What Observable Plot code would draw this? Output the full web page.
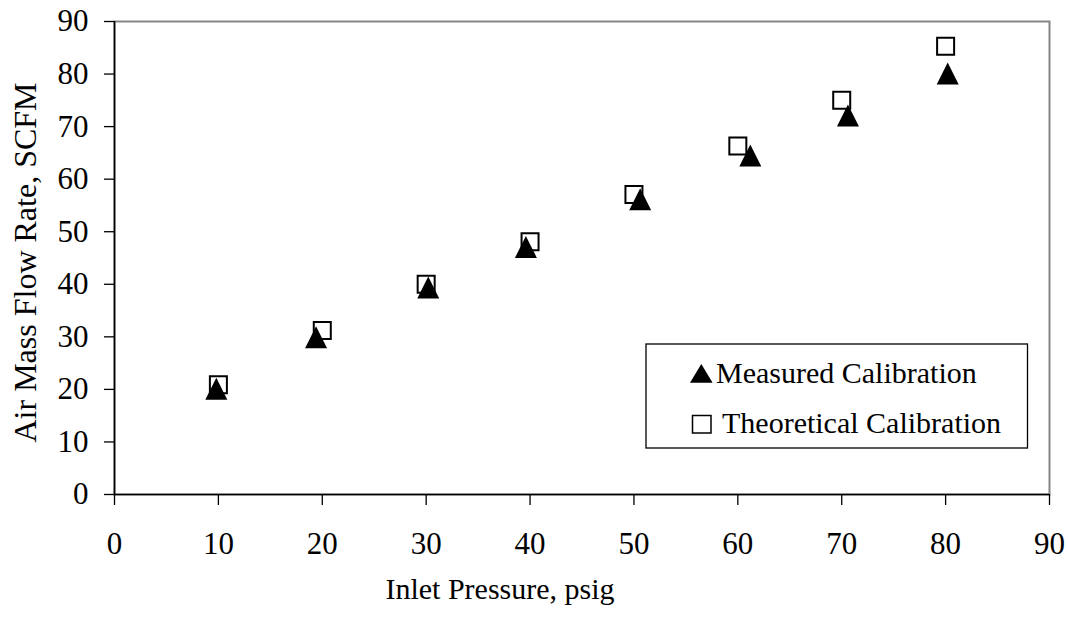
<!DOCTYPE html>
<html>
<head>
<meta charset="utf-8">
<script src="https://cdn.jsdelivr.net/npm/d3@7"></script>
<script src="https://cdn.jsdelivr.net/npm/@observablehq/plot@0.6"></script>
<style>
  html, body { margin: 0; padding: 0; background: #fff; }
  #chart { position: relative; width: 1068px; height: 619px; }
  #chart svg { display: block; }
  #legend { position: absolute; left: 0; top: 0; pointer-events: none; }
</style>
</head>
<body>
<div id="chart"></div>
<script>
// ---- data ----
const pressureMeasured = [9.8, 19.4, 30.2, 39.6, 50.6, 61.2, 70.6, 80.2];
const flowMeasured = [20.1, 29.9, 39.4, 47.1, 56.2, 64.5, 72.1, 80.1];
const pressureTheoretical = [10, 20, 30, 40, 50, 60, 70, 80];
const flowTheoretical = [20.9, 31.2, 40.0, 48.1, 57.1, 66.3, 75.0, 85.3];
const xTicks = [0, 10, 20, 30, 40, 50, 60, 70, 80, 90];
const yTicks = [0, 10, 20, 30, 40, 50, 60, 70, 80, 90];
const seriesNames = ["Measured Calibration", "Theoretical Calibration"];
const xTitle = "Inlet Pressure, psig";
const yTitle = "Air Mass Flow Rate, SCFM";

const measured = pressureMeasured.map((p, i) => ({p, f: flowMeasured[i]}));
const theoretical = pressureTheoretical.map((p, i) => ({p, f: flowTheoretical[i]}));

// bbox-centred triangle and square symbols (Excel-like markers)
const triSym = {draw(ctx, size) {
  const r = Math.sqrt(size / Math.PI);
  ctx.moveTo(0, -r); ctx.lineTo(r, r); ctx.lineTo(-r, r); ctx.closePath();
}};
const sqSym = {draw(ctx, size) {
  const r = Math.sqrt(size / Math.PI);
  ctx.moveTo(-r, -r); ctx.lineTo(r, -r); ctx.lineTo(r, r); ctx.lineTo(-r, r); ctx.closePath();
}};

const font = "'Liberation Serif', 'Times New Roman', serif";

const chart = Plot.plot({
  width: 1068,
  height: 619,
  marginLeft: 114,
  marginRight: 19,
  marginTop: 21,
  marginBottom: 125,
  style: {fontFamily: font, fontSize: "30px", color: "#000", background: "#fff", overflow: "visible"},
  x: {domain: [0, 90]},
  y: {domain: [0, 90]},
  marks: [
    Plot.frame({stroke: "#858585", strokeWidth: 2}),
    Plot.ruleX([0], {stroke: "#000", strokeWidth: 1.6}),
    Plot.ruleY([0], {stroke: "#000", strokeWidth: 1.6}),
    Plot.axisX({ticks: xTicks, tickSize: 11, tickPadding: 26, label: null, stroke: "#000", strokeWidth: 1.3, fontSize: 31}),
    Plot.axisY({ticks: yTicks, tickSize: 10, tickPadding: 16, label: null, stroke: "#000", strokeWidth: 1.3, fontSize: 31}),
    Plot.dot(theoretical, {x: "p", y: "f", symbol: sqSym, r: 8.5, stroke: "#000", strokeWidth: 2, fill: "none"}),
    Plot.dot(measured, {x: "p", y: "f", symbol: triSym, r: 11, fill: "#000", stroke: "none"}),
    Plot.text([xTitle], {frameAnchor: "bottom", dx: -82, dy: 104, fontSize: 30, fill: "#000"})
  ]
});
document.getElementById("chart").appendChild(chart);

// ---- overlay: y-axis title and legend (inside plot area, bottom right) ----
const ns = "http://www.w3.org/2000/svg";
const lg = document.createElementNS(ns, "svg");
lg.setAttribute("id", "legend");
lg.setAttribute("width", 1068);
lg.setAttribute("height", 619);
const sel = d3.select(lg);
sel.append("text").attr("transform", "translate(35.5,262.5) rotate(-90)")
  .attr("text-anchor", "middle").attr("font-family", font).attr("font-size", 32)
  .attr("fill", "#000").text(yTitle);
sel.append("rect").attr("x", 646).attr("y", 344).attr("width", 381.5).attr("height", 104)
  .attr("fill", "#fff").attr("stroke", "#000").attr("stroke-width", 1.3);
sel.append("path").attr("d", "M701.3,364 L712.6,382.7 L690,382.7 Z").attr("fill", "#000");
sel.append("rect").attr("x", 692.5).attr("y", 415.5).attr("width", 18.5).attr("height", 17.5)
  .attr("fill", "#fff").attr("stroke", "#000").attr("stroke-width", 1.5);
sel.append("text").attr("x", 716).attr("y", 382.7).text(seriesNames[0])
  .attr("font-family", font).attr("font-size", 30).attr("fill", "#000");
sel.append("text").attr("x", 722).attr("y", 433.3).text(seriesNames[1])
  .attr("font-family", font).attr("font-size", 30).attr("fill", "#000");
document.getElementById("chart").appendChild(lg);
</script>
</body>
</html>
